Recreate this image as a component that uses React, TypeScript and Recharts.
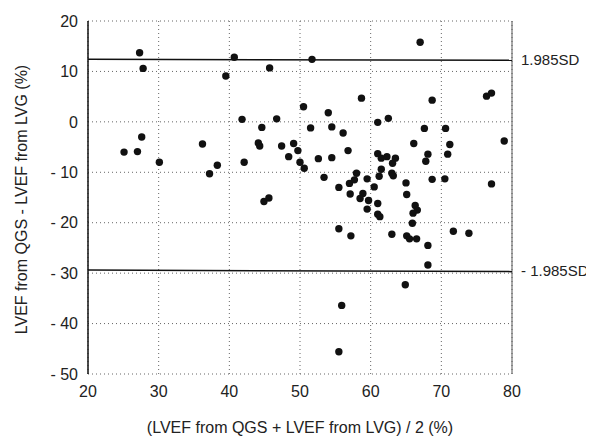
import { ScatterChart, Scatter, XAxis, YAxis, CartesianGrid, ReferenceLine, Label } from 'recharts'

// mean of the two methods (%)
const meanValues = [
  27.3, 27.8, 27.6, 25.1, 27.0, 30.1, 36.2, 37.2, 38.3, 39.5,
  40.7, 41.8, 42.1, 44.6, 44.1, 44.3, 45.7, 46.7, 44.9, 45.6,
  47.4, 48.4, 49.1, 49.7, 50.0, 50.6, 50.5, 51.5, 54.0, 54.5,
  56.1, 58.7, 52.6, 54.5, 56.8, 53.4, 55.5, 57.0, 57.7, 58.0,
  59.5, 60.5, 61.0, 62.5, 61.0, 61.5, 62.3, 63.5, 63.1, 61.5,
  61.2, 63.0, 63.2, 57.1, 58.9, 58.5, 59.7, 59.5, 61.0, 61.0,
  61.3, 65.0, 65.1, 66.3, 66.6, 66.0, 65.9, 68.1, 67.8, 68.7,
  70.5, 70.9, 71.2, 66.1, 67.6, 70.6, 68.7, 78.9, 76.4, 77.1,
  77.1, 67.0, 51.7, 55.5, 57.2, 63.0, 65.1, 65.5, 66.5, 68.1,
  68.1, 71.7, 73.9, 64.9, 55.9, 55.5,
]

// difference QGS - LVG (%)
const diffValues = [
  13.7, 10.6, -3.0, -6.0, -5.9, -8.0, -4.4, -10.3, -8.6, 9.1,
  12.8, 0.5, -8.0, -1.1, -4.2, -4.8, 10.7, 0.6, -15.8, -15.1,
  -4.8, -6.9, -4.3, -5.7, -8.0, -9.2, 3.0, -1.2, 1.8, -1.0,
  -2.2, 4.7, -7.3, -7.1, -5.7, -11.0, -13.0, -12.2, -11.5, -10.2,
  -11.3, -12.9, -0.1, 0.7, -6.3, -7.2, -6.9, -7.2, -8.2, -9.4,
  -10.8, -10.2, -10.7, -14.3, -14.2, -15.2, -15.6, -17.3, -16.2, -18.3,
  -18.8, -12.1, -14.4, -16.6, -17.5, -18.1, -20.1, -6.4, -7.8, -11.4,
  -11.3, -6.4, -4.5, -4.3, -1.3, -1.3, 4.3, -3.8, 5.1, 5.7,
  -12.3, 15.8, 12.4, -21.2, -22.6, -22.3, -22.6, -23.2, -23.2, -24.5,
  -28.4, -21.7, -22.1, -32.3, -36.4, -45.6,
]

const xTicks = [20, 30, 40, 50, 60, 70, 80]
const yTicks = [20, 10, 0, -10, -20, -30, -40, -50]

// limits of agreement at left (x=20) and right (x=80) ends
const upperLimit = [12.4, 12.2]
const lowerLimit = [-29.4, -29.7]

const data = meanValues.map((m, i) => ({ mean: m, diff: diffValues[i] }))

const font = '"Liberation Sans", Arial, sans-serif'
const tickStyle = { fontSize: 16, fill: '#222', fontFamily: font }

const Dot = (props: any) => <circle cx={props.cx} cy={props.cy} r={3.7} fill="#111" />

const YTitle = (props: any) => {
  const vb = props.viewBox
  const cx = vb.x + 13
  const cy = vb.y + vb.height / 2 + 2
  return (
    <text
      x={cx}
      y={cy}
      transform={`rotate(-90 ${cx} ${cy})`}
      textAnchor="middle"
      dominantBaseline="central"
      fontSize={16}
      fill="#222"
      fontFamily={font}
    >
      LVEF from QGS - LVEF from LVG (%)
    </text>
  )
}

const sdLabel = { position: 'right' as const, offset: 9, fontSize: 15, fill: '#222', fontFamily: font }

const App = () => {
  return (
    <div style={{ width: 586, height: 429 }}>
      <ScatterChart width={586} height={429} margin={{ top: 13, right: 82, bottom: 0, left: 0 }}>
        <CartesianGrid strokeDasharray="1 3" stroke="#666" />
        <XAxis
          type="number"
          dataKey="mean"
          domain={[20, 80]}
          ticks={xTicks}
          height={63}
          tickSize={0}
          tickMargin={12}
          axisLine={false}
          tick={tickStyle}
        >
          <Label
            value="(LVEF from QGS + LVEF from LVG) / 2 (%)"
            position="insideBottom"
            offset={4}
            style={{ fontSize: 16, fill: '#222', fontFamily: font }}
          />
        </XAxis>
        <YAxis
          type="number"
          dataKey="diff"
          domain={[-50, 20]}
          ticks={yTicks}
          width={80}
          tickSize={0}
          tickMargin={10}
          axisLine={{ stroke: '#111', strokeWidth: 1.5 }}
          tick={tickStyle}
          tickFormatter={(v: number) => (v < 0 ? `- ${-v}` : `${v}`)}
        >
          <Label content={YTitle} />
        </YAxis>
        <ReferenceLine x={80} stroke="#555" />
        <ReferenceLine
          segment={[
            { x: 20, y: upperLimit[0] },
            { x: 80, y: upperLimit[1] },
          ]}
          stroke="#111"
          strokeWidth={1.5}
          label={{ ...sdLabel, value: '1.985SD' }}
        />
        <ReferenceLine
          segment={[
            { x: 20, y: lowerLimit[0] },
            { x: 80, y: lowerLimit[1] },
          ]}
          stroke="#111"
          strokeWidth={1.5}
          label={{ ...sdLabel, value: '- 1.985SD' }}
        />
        <Scatter data={data} shape={Dot} isAnimationActive={false} />
      </ScatterChart>
    </div>
  )
}

export default App
